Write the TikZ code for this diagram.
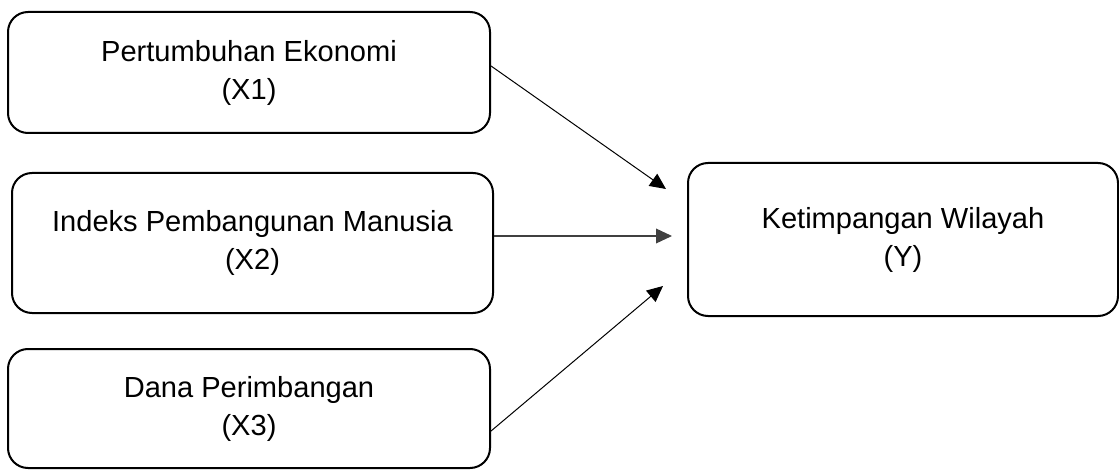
\documentclass[tikz,border=0pt]{standalone}
\usepackage{fontspec}
\setmainfont{Liberation Sans}
\usetikzlibrary{arrows.meta}
\tikzset{
  box/.style={draw, line width=1.5pt, rounded corners=15pt, align=center, inner sep=0pt,
    font=\fontsize{21.8}{28.5}\selectfont},
  arr/.style={-{Triangle[length=12pt,width=11pt]}, line width=0.75pt}
}
\begin{document}
\begin{tikzpicture}[x=0.75pt,y=-0.75pt]
\useasboundingbox (0,0) rectangle (1119,470);

% variabel bebas
\node [box, minimum width=361.5pt, minimum height=90.75pt] (x1) at (249,72.5) {Pertumbuhan Ekonomi\\(X1)};
\node [box, minimum width=360.75pt, minimum height=105pt] (x2) at (252.5,243) {Indeks Pembangunan Manusia\\(X2)};
\node [box, minimum width=361.5pt, minimum height=89.25pt] (x3) at (249,408.5) {Dana Perimbangan\\(X3)};

% variabel terikat
\node [box, minimum width=322.5pt, minimum height=114.75pt] (y) at (903,239.5) {Ketimpangan Wilayah\\(Y)};

\coordinate (t1) at (666,189);
\coordinate (t2) at (672,236);
\coordinate (t3) at (663,286);

\draw [arr] ([yshift=4.9pt]x1.east) -- (t1);
\draw [arr, black!75, line width=1.1pt] ([yshift=5.25pt]x2.east) -- (t2);
\draw [arr] ([yshift=-16.9pt]x3.east) -- (t3);

\end{tikzpicture}
\end{document}
